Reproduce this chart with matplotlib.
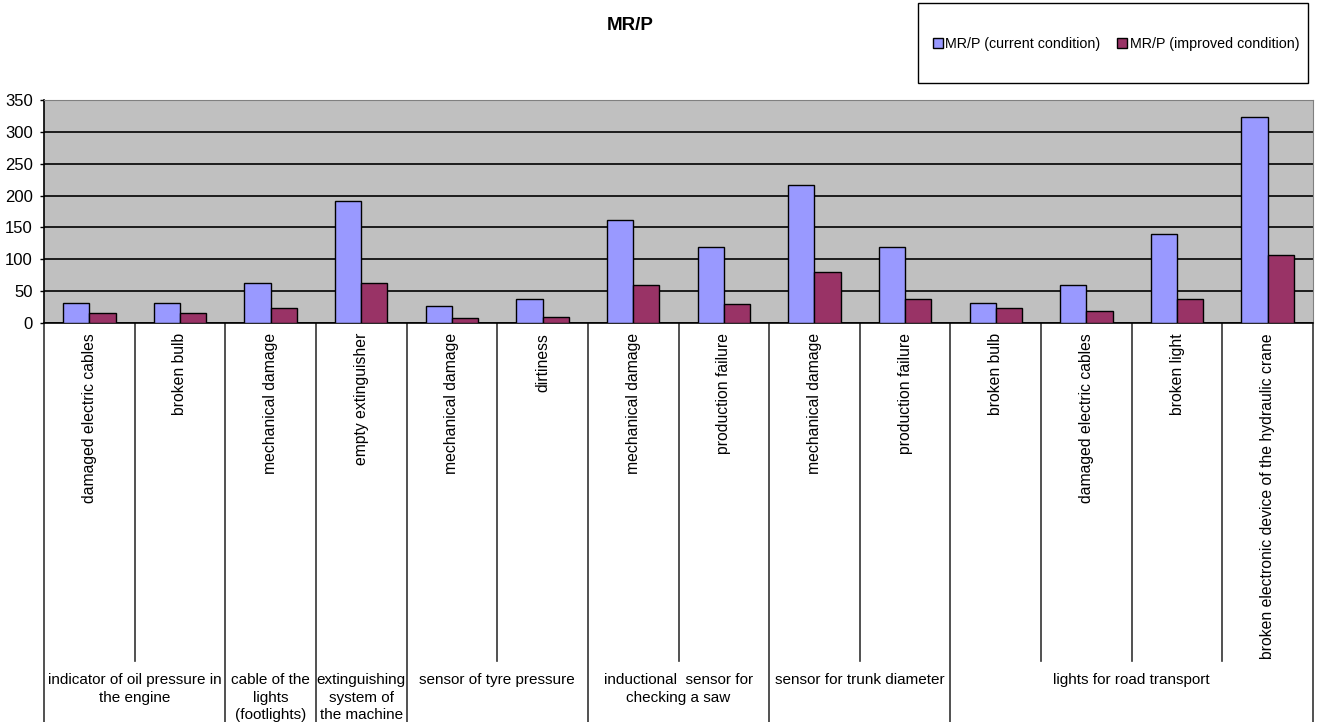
import matplotlib.pyplot as plt
import matplotlib.transforms as mtransforms
from matplotlib.patches import Rectangle
import numpy as np

plt.rcParams['font.family'] = ['Liberation Sans', 'DejaVu Sans']

# failure causes (lower axis level) and their parent components
causes = ["damaged electric cables", "broken bulb", "mechanical damage",
          "empty extinguisher", "mechanical damage", "dirtiness",
          "mechanical damage", "production failure", "mechanical damage",
          "production failure", "broken bulb", "damaged electric cables",
          "broken light", "broken electronic device of the hydraulic crane"]
groups = ["indicator of oil pressure in\nthe engine",
          "cable of the\nlights\n(footlights)",
          "extinguishing\nsystem of\nthe machine",
          "sensor of tyre pressure",
          "inductional  sensor for\nchecking a saw",
          "sensor for trunk diameter",
          "lights for road transport"]
group_sizes = [2, 1, 1, 2, 2, 2, 4]

current = [32, 32, 63, 192, 27, 38, 161, 120, 216, 120, 32, 60, 140, 323]
improved = [16, 16, 24, 63, 8, 9, 60, 30, 80, 38, 24, 19, 38, 107]

W, H = 1321, 722
fig = plt.figure(figsize=(W / 100, H / 100), dpi=100)
ax = fig.add_axes([44 / W, 1 - 323 / H, 1269 / W, 223 / H])

x = np.arange(len(causes))
bw = 0.289
ax.bar(x - bw / 2, current, bw, color='#9999FF', edgecolor='black',
       linewidth=1, label='MR/P (current condition)', zorder=3)
ax.bar(x + bw / 2, improved, bw, color='#993366', edgecolor='black',
       linewidth=1, label='MR/P (improved condition)', zorder=3)

ax.set_facecolor('#C0C0C0')
ax.set_xlim(-0.5, len(causes) - 0.5)
ax.set_ylim(0, 350)
ax.set_yticks(np.arange(0, 351, 50))
ax.yaxis.grid(True, color='black', linewidth=1.2, zorder=1)
ax.set_axisbelow(True)
ax.tick_params(axis='y', length=3, width=1, labelsize=12, pad=5)
ax.set_xticks([])
for side in ['top', 'right']:
    ax.spines[side].set_color('#808080')
ax.spines['left'].set_linewidth(1.2)
ax.spines['bottom'].set_linewidth(1.2)

# two-level category axis drawn below the plot
trans = mtransforms.blended_transform_factory(ax.transData, fig.transFigure)
def fy(py):
    return 1 - py / H

for i, c in enumerate(causes):
    ax.text(i, fy(333), c, rotation=90, ha='center', va='top',
            fontsize=11.3, transform=trans)

edges = np.cumsum([0] + group_sizes) - 0.5
for b in np.arange(-0.5, len(causes)):
    bottom = 722 if np.any(np.isclose(edges, b)) else 661
    ax.plot([b, b], [fy(323), fy(bottom)], color='#333333', lw=1.2,
            transform=trans, clip_on=False)

for g, lo, hi in zip(groups, edges[:-1], edges[1:]):
    ax.text((lo + hi) / 2, fy(673), g, ha='center', va='top',
            fontsize=11, linespacing=1.32, transform=trans)

fig.text(630 / W, fy(25), 'MR/P', ha='center', va='center',
         fontsize=13.5, fontweight='bold')

# legend box
fig.patches.append(Rectangle((918 / W, fy(83)), 390 / W, 80 / H,
                             transform=fig.transFigure, fill=False,
                             edgecolor='black', linewidth=1))
fig.legend(loc='center', bbox_to_anchor=(1116 / W, fy(44)), ncol=2,
           frameon=False, fontsize=10.3, handlelength=0.7,
           handleheight=0.7, handletextpad=0.15, columnspacing=1.2,
           borderaxespad=0)

fig.savefig('out.png', dpi=100)
